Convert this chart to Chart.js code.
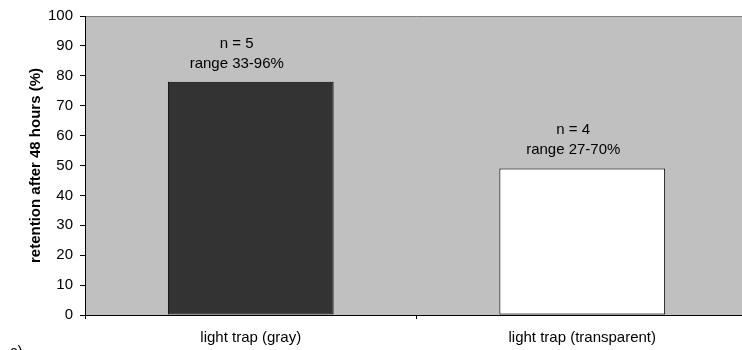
<!DOCTYPE html>
<html>
<head>
<meta charset="utf-8">
<script src="https://cdn.jsdelivr.net/npm/chart.js@4.4.0/dist/chart.umd.min.js"></script>
<style>
  html, body { margin: 0; padding: 0; background: #fff; overflow: hidden; width: 742px; height: 350px; }
  #wrap { position: relative; width: 750px; height: 350px; }
</style>
</head>
<body>
<div id="wrap"><canvas id="c" width="750" height="350"></canvas></div>
<script>
// Data
const categories = ['light trap (gray)', 'light trap (transparent)'];
const retention = [78, 49];
const sampleLabels = ['n = 5', 'n = 4'];
const rangeLabels = ['range 33-96%', 'range 27-70%'];
const yMin = 0;
const yMax = 100;
const yStep = 10;
const panelLetter = 'c)';

const FONT = '"Liberation Sans", Arial, Helvetica, sans-serif';

// Gray plot background with a thin darker top edge
const plotBackground = {
  id: 'plotBackground',
  beforeDraw(chart) {
    const { ctx, chartArea: a } = chart;
    ctx.save();
    ctx.fillStyle = '#c0c0c0';
    ctx.fillRect(a.left, a.top, a.right - a.left, a.bottom - a.top);
    ctx.strokeStyle = '#808080';
    ctx.lineWidth = 1;
    ctx.beginPath();
    ctx.moveTo(a.left, a.top + 0.5);
    ctx.lineTo(a.right, a.top + 0.5);
    ctx.stroke();
    ctx.restore();
  }
};

// Two-line text above each bar
const barNotes = {
  id: 'barNotes',
  afterDatasetsDraw(chart, args, opts) {
    const { ctx } = chart;
    const meta = chart.getDatasetMeta(0);
    ctx.save();
    ctx.fillStyle = '#000';
    ctx.font = '15px ' + FONT;
    ctx.textAlign = 'center';
    ctx.textBaseline = 'alphabetic';
    meta.data.forEach((bar, i) => {
      const x = bar.x + opts.shift[i];
      ctx.fillText(sampleLabels[i], x, bar.y - 34);
      ctx.fillText(rangeLabels[i], x, bar.y - 14);
    });
    ctx.restore();
  }
};

// Panel letter in the lower-left corner
const panelTag = {
  id: 'panelTag',
  afterDraw(chart) {
    const { ctx } = chart;
    ctx.save();
    ctx.fillStyle = '#000';
    ctx.font = '15px ' + FONT;
    ctx.textAlign = 'left';
    ctx.textBaseline = 'alphabetic';
    ctx.fillText(panelLetter, 10, 356);
    ctx.restore();
  }
};

new Chart(document.getElementById('c'), {
  type: 'bar',
  data: {
    labels: categories,
    datasets: [{
      data: retention,
      backgroundColor: ['#333333', '#ffffff'],
      borderColor: '#000000',
      borderWidth: 1,
      borderSkipped: false,
      barPercentage: 0.5,
      categoryPercentage: 1.0
    }]
  },
  options: {
    responsive: false,
    devicePixelRatio: 1,
    animation: false,
    layout: { padding: { top: 16, right: 2, left: 0, bottom: 0 } },
    plugins: {
      legend: { display: false },
      tooltip: { enabled: false },
      barNotes: { shift: [-14, -9] }
    },
    scales: {
      x: {
        offset: true,
        grid: {
          offset: true,
          drawOnChartArea: false,
          drawTicks: true,
          tickLength: 4,
          color: '#000'
        },
        border: { display: true, color: '#000', width: 1 },
        ticks: {
          color: '#000',
          padding: 10,
          maxRotation: 0,
          font: { family: FONT, size: 15 }
        },
        afterFit(scale) { scale.height = 35; }
      },
      y: {
        min: yMin,
        max: yMax,
        ticks: {
          stepSize: yStep,
          color: '#000',
          padding: 7,
          font: { family: FONT, size: 15 }
        },
        grid: {
          drawOnChartArea: false,
          drawTicks: true,
          tickLength: 5,
          color: '#000'
        },
        border: { display: true, color: '#000', width: 1 },
        title: {
          display: true,
          text: 'retention after 48 hours (%)',
          color: '#000',
          padding: { top: 27, bottom: 0 },
          font: { family: FONT, size: 15, weight: 'bold' }
        },
        afterFit(scale) { scale.width = 85; }
      }
    }
  },
  plugins: [plotBackground, barNotes, panelTag]
});
</script>
</body>
</html>
